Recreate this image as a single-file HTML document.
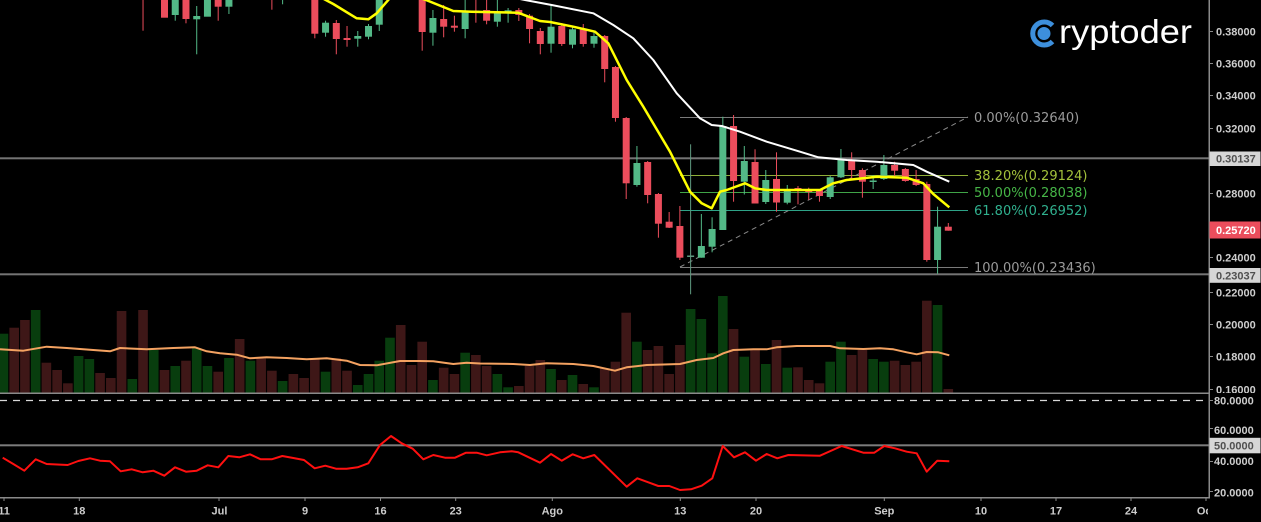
<!DOCTYPE html>
<html><head><meta charset="utf-8"><style>
html,body{margin:0;padding:0;background:#000;}
svg{display:block;}
</style></head><body>
<svg width="1261" height="522" viewBox="0 0 1261 522" xmlns="http://www.w3.org/2000/svg">
<defs>
<clipPath id="main"><rect x="0" y="0" width="1209" height="393"/></clipPath>
<clipPath id="rsi"><rect x="0" y="394" width="1209" height="103"/></clipPath>
<clipPath id="xax"><rect x="0" y="498" width="1208" height="24"/></clipPath>
<clipPath id="pax"><rect x="1210" y="0" width="51" height="393"/></clipPath>
</defs>
<rect width="1261" height="522" fill="#000"/>

<g clip-path="url(#main)">
<!-- volume green -->
<g fill="#083d0e">
<rect x="-1.35" y="333.7" width="9.6" height="58.8"/><rect x="30.86" y="310" width="9.6" height="82.5"/><rect x="73.81" y="356" width="9.6" height="36.5"/><rect x="84.55" y="359" width="9.6" height="33.5"/><rect x="127.49" y="379" width="9.6" height="13.5"/><rect x="148.97" y="350" width="9.6" height="42.5"/><rect x="170.44" y="366" width="9.6" height="26.5"/><rect x="191.92" y="348.3" width="9.6" height="44.2"/><rect x="202.65" y="366" width="9.6" height="26.5"/><rect x="224.13" y="358" width="9.6" height="34.5"/><rect x="245.6" y="360.7" width="9.6" height="31.8"/><rect x="277.81" y="381" width="9.6" height="11.5"/><rect x="320.76" y="371.7" width="9.6" height="20.8"/><rect x="352.97" y="385" width="9.6" height="7.5"/><rect x="363.71" y="374" width="9.6" height="18.5"/><rect x="374.45" y="360.7" width="9.6" height="31.8"/><rect x="385.18" y="337.7" width="9.6" height="54.8"/><rect x="428.13" y="380" width="9.6" height="12.5"/><rect x="460.34" y="352.7" width="9.6" height="39.8"/><rect x="492.55" y="374" width="9.6" height="18.5"/><rect x="503.29" y="387.3" width="9.6" height="5.2"/><rect x="546.24" y="369" width="9.6" height="23.5"/><rect x="567.71" y="375" width="9.6" height="17.5"/><rect x="589.19" y="387.3" width="9.6" height="5.2"/><rect x="632.13" y="341.7" width="9.6" height="50.8"/><rect x="685.82" y="309" width="9.6" height="83.5"/><rect x="696.56" y="319" width="9.6" height="73.5"/><rect x="707.29" y="353.3" width="9.6" height="39.2"/><rect x="718.03" y="296" width="9.6" height="96.5"/><rect x="739.5" y="356.7" width="9.6" height="35.8"/><rect x="760.98" y="364" width="9.6" height="28.5"/><rect x="782.45" y="367.7" width="9.6" height="24.8"/><rect x="825.4" y="361.7" width="9.6" height="30.8"/><rect x="836.14" y="341.7" width="9.6" height="50.8"/><rect x="868.35" y="359" width="9.6" height="33.5"/><rect x="879.08" y="361.7" width="9.6" height="30.8"/><rect x="932.77" y="305" width="9.6" height="87.5"/>
</g>
<!-- volume red -->
<g fill="#3e1717">
<rect x="9.39" y="327.7" width="9.6" height="64.8"/><rect x="20.12" y="320" width="9.6" height="72.5"/><rect x="41.6" y="362.7" width="9.6" height="29.8"/><rect x="52.34" y="370" width="9.6" height="22.5"/><rect x="63.07" y="383.3" width="9.6" height="9.2"/><rect x="95.28" y="373" width="9.6" height="19.5"/><rect x="106.02" y="378" width="9.6" height="14.5"/><rect x="116.76" y="311" width="9.6" height="81.5"/><rect x="138.23" y="310" width="9.6" height="82.5"/><rect x="159.71" y="370" width="9.6" height="22.5"/><rect x="181.18" y="360.7" width="9.6" height="31.8"/><rect x="213.39" y="371.7" width="9.6" height="20.8"/><rect x="234.86" y="339" width="9.6" height="53.5"/><rect x="256.34" y="358.3" width="9.6" height="34.2"/><rect x="267.08" y="370.7" width="9.6" height="21.8"/><rect x="288.55" y="374" width="9.6" height="18.5"/><rect x="299.29" y="378" width="9.6" height="14.5"/><rect x="310.02" y="358.3" width="9.6" height="34.2"/><rect x="331.5" y="358.3" width="9.6" height="34.2"/><rect x="342.23" y="370.7" width="9.6" height="21.8"/><rect x="395.92" y="325" width="9.6" height="67.5"/><rect x="406.66" y="365" width="9.6" height="27.5"/><rect x="417.39" y="341.7" width="9.6" height="50.8"/><rect x="438.87" y="367.7" width="9.6" height="24.8"/><rect x="449.6" y="374" width="9.6" height="18.5"/><rect x="471.08" y="355" width="9.6" height="37.5"/><rect x="481.82" y="366" width="9.6" height="26.5"/><rect x="514.03" y="386" width="9.6" height="6.5"/><rect x="524.76" y="366" width="9.6" height="26.5"/><rect x="535.5" y="360" width="9.6" height="32.5"/><rect x="556.97" y="380" width="9.6" height="12.5"/><rect x="578.45" y="384" width="9.6" height="8.5"/><rect x="599.92" y="368.3" width="9.6" height="24.2"/><rect x="610.66" y="361.7" width="9.6" height="30.8"/><rect x="621.4" y="312.7" width="9.6" height="79.8"/><rect x="642.87" y="350" width="9.6" height="42.5"/><rect x="653.61" y="346" width="9.6" height="46.5"/><rect x="664.34" y="374" width="9.6" height="18.5"/><rect x="675.08" y="345" width="9.6" height="47.5"/><rect x="728.77" y="329" width="9.6" height="63.5"/><rect x="750.24" y="350" width="9.6" height="42.5"/><rect x="771.71" y="340" width="9.6" height="52.5"/><rect x="793.19" y="367.3" width="9.6" height="25.2"/><rect x="803.93" y="380" width="9.6" height="12.5"/><rect x="814.66" y="383.3" width="9.6" height="9.2"/><rect x="846.87" y="355" width="9.6" height="37.5"/><rect x="857.61" y="350" width="9.6" height="42.5"/><rect x="889.82" y="360.7" width="9.6" height="31.8"/><rect x="900.56" y="365" width="9.6" height="27.5"/><rect x="911.3" y="361.7" width="9.6" height="30.8"/><rect x="922.03" y="300.7" width="9.6" height="91.8"/><rect x="943.51" y="389" width="9.6" height="3.5"/>
</g>
<!-- volume MA -->
<polyline fill="none" stroke="#f4a261" stroke-width="2" stroke-linejoin="round" points="0,349.3 23.3,350.7 46.7,346.7 66.7,348 93.3,350 110,351.3 120,348 146.7,349.3 173.3,348 195,347.3 206.7,351.3 220,353.3 236.7,354.7 250,358.3 266.7,357.3 286.7,358 306.7,359.3 326.7,358.3 346.7,360.7 360,365 376.7,365.3 400,361 420,361 433.3,361.3 453.3,364 466.7,362.7 480,363.5 513.3,364 530,365 546.7,363.3 573.3,364 593.3,366 615,370.7 626.7,367.3 646.7,365 680,364 696.7,360 713.3,358 723.3,353.3 733.3,350 753.3,349.3 766.7,349.3 776.7,347.3 796.7,346 830,346 840,348.3 863.3,349 880,348.3 893.3,349.3 906.7,352.3 916.7,354.3 926.7,352 938.3,352.3 949.3,355.3"/>

<!-- horizontal price lines -->
<rect x="0" y="157.3" width="1209" height="2" fill="#747474"/>
<rect x="0" y="273.3" width="1209" height="2" fill="#747474"/>

<!-- fib lines -->
<line x1="680" y1="117.5" x2="968" y2="117.5" stroke="#7a7a7a" stroke-width="1"/>
<line x1="680" y1="175.5" x2="968" y2="175.5" stroke="#8fae38" stroke-width="1"/>
<line x1="680" y1="192.5" x2="968" y2="192.5" stroke="#3fa447" stroke-width="1"/>
<line x1="680" y1="210.5" x2="968" y2="210.5" stroke="#2ea387" stroke-width="1"/>
<line x1="680" y1="267.5" x2="968" y2="267.5" stroke="#7a7a7a" stroke-width="1"/>
<line x1="680" y1="267" x2="968" y2="117" stroke="#8a8a8a" stroke-width="1" stroke-dasharray="5,4"/>

<!-- candles green -->
<g fill="#53b987">
<rect x="174.74" y="-5" width="1" height="25.7"/><rect x="171.74" y="-5" width="7" height="20"/>
<rect x="196.22" y="6" width="1" height="48.3"/><rect x="193.22" y="16" width="7" height="3.3"/>
<rect x="203.95" y="-5" width="7" height="21.7"/>
<rect x="228.43" y="-5" width="1" height="19"/><rect x="225.43" y="-5" width="7" height="11.7"/>
<rect x="282.11" y="-5" width="1" height="9.3"/>
<rect x="325.06" y="20.7" width="1" height="16"/><rect x="322.06" y="22.7" width="7" height="10"/>
<rect x="357.27" y="31" width="1" height="15.7"/><rect x="354.27" y="36" width="7" height="2.7"/>
<rect x="368.01" y="24" width="1" height="15.3"/><rect x="365.01" y="26" width="7" height="10.7"/>
<rect x="378.75" y="-5" width="1" height="36"/><rect x="375.75" y="-5" width="7" height="29.7"/>
<rect x="432.43" y="10" width="1" height="35.7"/><rect x="429.43" y="18" width="7" height="14.7"/>
<rect x="464.64" y="-5" width="1" height="43.3"/><rect x="461.64" y="12.3" width="7" height="16.7"/>
<rect x="496.85" y="-5" width="1" height="31.7"/><rect x="493.85" y="12.3" width="7" height="9.4"/>
<rect x="507.59" y="8" width="1" height="14.7"/><rect x="504.59" y="10.3" width="7" height="2.4"/>
<rect x="550.54" y="5" width="1" height="47.7"/><rect x="547.54" y="26.7" width="7" height="17"/>
<rect x="572.01" y="26.7" width="1" height="21.6"/><rect x="569.01" y="29.3" width="7" height="15.4"/>
<rect x="593.49" y="32.3" width="1" height="15.4"/><rect x="590.49" y="36" width="7" height="7.7"/>
<rect x="636.43" y="146" width="1" height="40.7"/><rect x="633.43" y="163" width="7" height="22"/>
<rect x="700.86" y="214" width="1" height="43.7"/><rect x="697.86" y="246" width="7" height="11.7"/>
<rect x="711.59" y="217.3" width="1" height="35"/><rect x="708.59" y="229" width="7" height="17.7"/>
<rect x="722.33" y="116.7" width="1" height="113.3"/><rect x="719.33" y="126" width="7" height="104"/>
<rect x="743.8" y="146" width="1" height="48.5"/><rect x="740.8" y="161" width="7" height="20.7"/>
<rect x="765.28" y="170" width="1" height="34"/><rect x="762.28" y="180" width="7" height="22"/>
<rect x="786.75" y="185" width="1" height="19.3"/><rect x="783.75" y="189" width="7" height="13.7"/>
<rect x="829.7" y="176" width="1" height="23"/><rect x="826.7" y="177.3" width="7" height="19.7"/>
<rect x="840.44" y="149" width="1" height="29"/><rect x="837.44" y="159.3" width="7" height="18"/>
<rect x="872.65" y="175" width="1" height="14"/><rect x="869.65" y="180.5" width="7" height="1.5"/>
<rect x="883.38" y="155" width="1" height="25"/><rect x="880.38" y="165" width="7" height="14"/>
<rect x="937.07" y="206.7" width="1" height="67"/><rect x="934.07" y="226.7" width="7" height="33.3"/>
</g>
<g fill="#5f9a80">
<rect x="690.12" y="144.3" width="1" height="150"/><rect x="687.12" y="255.5" width="7" height="1.5"/>
</g>
<!-- candles red -->
<g fill="#eb4d5c">
<rect x="142.53" y="-5" width="1" height="35.7"/>
<rect x="161" y="-5" width="7" height="22.7"/>
<rect x="185.48" y="-5" width="1" height="28.3"/><rect x="182.48" y="-5" width="7" height="24"/>
<rect x="217.69" y="-5" width="1" height="25.7"/><rect x="214.69" y="-5" width="7" height="11.7"/>
<rect x="271.38" y="-5" width="1" height="14.7"/>
<rect x="314.32" y="-5" width="1" height="43.3"/><rect x="311.32" y="-5" width="7" height="38.7"/>
<rect x="335.8" y="20" width="1" height="34.3"/><rect x="332.8" y="23" width="7" height="16"/>
<rect x="346.53" y="26" width="1" height="20.7"/><rect x="343.53" y="38" width="7" height="2"/>
<rect x="421.69" y="-5" width="1" height="55.7"/><rect x="418.69" y="-5" width="7" height="37"/>
<rect x="443.17" y="5" width="1" height="32.3"/><rect x="440.17" y="19" width="7" height="7.7"/>
<rect x="453.9" y="15.7" width="1" height="16"/><rect x="450.9" y="25.7" width="7" height="2"/>
<rect x="475.38" y="-5" width="1" height="27.7"/><rect x="472.38" y="10.7" width="7" height="2"/>
<rect x="486.12" y="-5" width="1" height="29.3"/><rect x="483.12" y="10" width="7" height="10.7"/>
<rect x="518.33" y="8" width="1" height="13"/><rect x="515.33" y="10" width="7" height="5"/>
<rect x="529.06" y="14" width="1" height="29.3"/><rect x="526.06" y="15.7" width="7" height="13.3"/>
<rect x="539.8" y="28" width="1" height="26.3"/><rect x="536.8" y="31" width="7" height="13"/>
<rect x="561.27" y="23" width="1" height="23"/><rect x="558.27" y="26" width="7" height="18"/>
<rect x="582.75" y="24" width="1" height="22.7"/><rect x="579.75" y="29.3" width="7" height="14.7"/>
<rect x="604.22" y="35" width="1" height="47.3"/><rect x="601.22" y="36" width="7" height="33"/>
<rect x="614.96" y="66" width="1" height="55.7"/><rect x="611.96" y="67" width="7" height="51"/>
<rect x="625.7" y="117" width="1" height="82"/><rect x="622.7" y="118" width="7" height="65.3"/>
<rect x="647.17" y="161" width="1" height="42.3"/><rect x="644.17" y="162" width="7" height="33"/>
<rect x="657.91" y="193" width="1" height="44.7"/><rect x="654.91" y="194" width="7" height="29.7"/>
<rect x="668.64" y="212" width="1" height="16"/><rect x="665.64" y="221.7" width="7" height="6"/>
<rect x="679.38" y="206" width="1" height="54"/><rect x="676.38" y="226" width="7" height="31.7"/>
<rect x="733.07" y="115" width="1" height="86.7"/><rect x="730.07" y="126" width="7" height="55"/>
<rect x="754.54" y="149.3" width="1" height="54.2"/><rect x="751.54" y="162" width="7" height="41.5"/>
<rect x="776.01" y="152.3" width="1" height="59.4"/><rect x="773.01" y="179" width="7" height="23.5"/>
<rect x="797.49" y="186" width="1" height="18.3"/><rect x="794.49" y="188" width="7" height="2"/>
<rect x="808.23" y="187.7" width="1" height="12.3"/><rect x="805.23" y="190" width="7" height="2"/>
<rect x="818.96" y="189" width="1" height="12.7"/><rect x="815.96" y="190" width="7" height="6"/>
<rect x="851.17" y="152.3" width="1" height="26.7"/><rect x="848.17" y="160" width="7" height="10"/>
<rect x="861.91" y="168.3" width="1" height="29.4"/><rect x="858.91" y="170" width="7" height="11.7"/>
<rect x="894.12" y="161.7" width="1" height="15"/><rect x="891.12" y="165" width="7" height="5.7"/>
<rect x="904.86" y="168" width="1" height="13.7"/><rect x="901.86" y="169" width="7" height="12"/>
<rect x="915.6" y="170" width="1" height="16"/><rect x="912.6" y="179" width="7" height="6"/>
<rect x="926.33" y="181.7" width="1" height="80"/><rect x="923.33" y="184" width="7" height="76"/>
<rect x="947.81" y="223" width="1" height="7.7"/><rect x="944.81" y="226.7" width="7" height="4"/>
</g>

<!-- moving averages -->
<polyline fill="none" stroke="#ffff00" stroke-width="2.5" stroke-linejoin="round" points="322,-2 333.3,4 356.7,18.3 368.3,19.3 376.7,13.3 390,-2"/>
<polyline fill="none" stroke="#ffff00" stroke-width="2.5" stroke-linejoin="round" points="420,-2 426,0 453.3,11 471.7,11.7 518,12.7 540,21 550,22 573.3,26.7 595,31.7 608.3,43.3 626.7,80 643.3,106.7 670,151.7 690,191.7 701.7,203.3 711.7,208.3 720,191.7 726.7,190 745,183.3 755,188.3 766.7,190 820,190 833.3,183.3 846.7,180 876.7,176.7 906.7,177.7 923.3,183.3 933.3,194 949.3,207.3"/>
<polyline fill="none" stroke="#ffffff" stroke-width="2" stroke-linejoin="round" points="500,-5 525,0 551.7,5 593.3,13.3 613.3,25 633.3,38.3 653.3,60 676.7,93.3 700,118.3 711.7,125 721.7,126 740,131.7 766.7,141.7 800,151.7 818.3,157.3 846.7,160 876.7,161.7 913.3,165 926.7,171.7 949.3,181.7"/>

<!-- fib labels -->
<g font-family="DejaVu Sans, Liberation Sans, sans-serif" font-size="13">
<text x="974" y="122" fill="#9a9a9a">0.00%(0.32640)</text>
<text x="974" y="180" fill="#a3c13b">38.20%(0.29124)</text>
<text x="974" y="197" fill="#46b547">50.00%(0.28038)</text>
<text x="974" y="215" fill="#30b08e">61.80%(0.26952)</text>
<text x="974" y="272" fill="#9a9a9a">100.00%(0.23436)</text>
</g>
</g>

<!-- RSI pane -->
<g clip-path="url(#rsi)">
<line x1="0" y1="400.5" x2="1209" y2="400.5" stroke="#d8d8d8" stroke-width="1.2" stroke-dasharray="7,6"/>
<rect x="0" y="444.3" width="1209" height="2" fill="#7c7c7c"/>
<polyline fill="none" stroke="#ff1010" stroke-width="2" stroke-linejoin="round" points="2.7,457.7 13.3,464 24.3,470.7 35.7,459.3 46.7,464 67.7,465 78.3,461 90,458.3 100,460.7 110,461.3 120.7,471.3 131.7,469.3 142.7,472.3 153.3,470.7 164.3,475.7 175,467.3 186,471.7 196.7,470.7 207.7,465.3 218.3,467.3 228.3,456 239.3,457.3 250,454.3 260.7,459.3 271.7,459.3 282.3,456 293.3,458 304,460 314.7,468.3 325.3,465.7 336,468.7 346.7,468.7 357.7,467.3 368.3,463.3 380,445 391,436 401.7,443.3 412.7,448.7 423.3,459.3 433.3,455 445,457.7 455,457.7 466,452.7 476.7,452.7 486.7,455.3 500,452.3 511.7,451.3 518.3,452.3 540,462.7 551,454 561.7,460.7 572.7,454.3 583.3,458.3 594.3,455 626.7,486.7 637.3,478.3 648.3,482.3 658.3,486 669.3,486 680,490 691,489.3 701.7,485.7 712.3,478.3 722.7,446 734,457.3 745,452.3 756,460.7 766.7,454 777.3,458.3 788.3,455 820,455.7 841.7,446 863.3,452.7 874.3,452.7 884.3,446 895,448.3 906.7,451.7 916.7,453.3 926.7,471.7 937.3,460.7 949.3,461.3"/>
</g>

<!-- pane borders / axes -->
<rect x="0" y="392.5" width="1209" height="1.5" fill="#8a8a8a"/>
<rect x="0" y="497" width="1209" height="1.5" fill="#8a8a8a"/>
<rect x="1208.5" y="0" width="1.5" height="498.5" fill="#8a8a8a"/>

<!-- price axis ticks -->
<g stroke="#8a8a8a" stroke-width="1">
<line x1="1209" y1="31.5" x2="1213" y2="31.5"/><line x1="1209" y1="63.5" x2="1213" y2="63.5"/><line x1="1209" y1="95.5" x2="1213" y2="95.5"/><line x1="1209" y1="128.5" x2="1213" y2="128.5"/><line x1="1209" y1="193.5" x2="1213" y2="193.5"/><line x1="1209" y1="257.5" x2="1213" y2="257.5"/><line x1="1209" y1="292.5" x2="1213" y2="292.5"/><line x1="1209" y1="324.5" x2="1213" y2="324.5"/><line x1="1209" y1="356.5" x2="1213" y2="356.5"/><line x1="1209" y1="389.5" x2="1213" y2="389.5"/>
<line x1="1209" y1="400.5" x2="1213" y2="400.5"/><line x1="1209" y1="428.5" x2="1213" y2="428.5"/><line x1="1209" y1="461.5" x2="1213" y2="461.5"/><line x1="1209" y1="491.5" x2="1213" y2="491.5"/>
<line x1="4" y1="498" x2="4" y2="501"/><line x1="79.3" y1="498" x2="79.3" y2="501"/><line x1="219" y1="498" x2="219" y2="501"/><line x1="305" y1="498" x2="305" y2="501"/><line x1="380.5" y1="498" x2="380.5" y2="501"/><line x1="455.7" y1="498" x2="455.7" y2="501"/><line x1="552.3" y1="498" x2="552.3" y2="501"/><line x1="680.3" y1="498" x2="680.3" y2="501"/><line x1="756" y1="498" x2="756" y2="501"/><line x1="884.3" y1="498" x2="884.3" y2="501"/><line x1="981" y1="498" x2="981" y2="501"/><line x1="1056" y1="498" x2="1056" y2="501"/><line x1="1131" y1="498" x2="1131" y2="501"/><line x1="1206" y1="498" x2="1206" y2="501"/>
</g>

<!-- price axis labels -->
<g font-family="Liberation Sans, Arial, sans-serif" font-size="11" font-weight="bold" fill="#cdcdcd">
<text x="1216" y="35.5">0.38000</text>
<text x="1216" y="67.3">0.36000</text>
<text x="1216" y="99.7">0.34000</text>
<text x="1216" y="132.3">0.32000</text>
<text x="1216" y="197.3">0.28000</text>
<text x="1216" y="261.7">0.24000</text>
<text x="1216" y="296.3">0.22000</text>
<text x="1216" y="328.3">0.20000</text>
<text x="1216" y="360.7">0.18000</text>
<g clip-path="url(#pax)"><text x="1216" y="393.3">0.16000</text></g>
<text x="1214" y="404.7">80.0000</text>
<text x="1214" y="434">60.0000</text>
<text x="1214" y="465">40.0000</text>
<text x="1214" y="496.3">20.0000</text>
</g>
<!-- value boxes -->
<rect x="1209.5" y="151.5" width="51" height="14.5" fill="#d6d6d6"/>
<rect x="1209.5" y="221.5" width="51" height="17" fill="#eb4d5c"/>
<rect x="1209.5" y="268" width="51" height="14.8" fill="#d6d6d6"/>
<rect x="1209.5" y="437.8" width="51" height="15.5" fill="#d6d6d6"/>
<g font-family="Liberation Sans, Arial, sans-serif" font-size="11" font-weight="bold">
<text x="1216" y="162.7" fill="#505050">0.30137</text>
<text x="1216" y="234" fill="#ffffff">0.25720</text>
<text x="1216" y="279.4" fill="#505050">0.23037</text>
<text x="1214" y="449.5" fill="#505050">50.0000</text>
</g>

<!-- x axis labels -->
<g clip-path="url(#xax)" font-family="Liberation Sans, Arial, sans-serif" font-size="11" font-weight="bold" fill="#cdcdcd" text-anchor="middle">
<text x="4" y="514.5">11</text>
<text x="79.3" y="514.5">18</text>
<text x="219.5" y="514.5">Jul</text>
<text x="305" y="514.5">9</text>
<text x="380.5" y="514.5">16</text>
<text x="455.7" y="514.5">23</text>
<text x="552.3" y="514.5">Ago</text>
<text x="680.3" y="514.5">13</text>
<text x="756" y="514.5">20</text>
<text x="884.3" y="514.5">Sep</text>
<text x="981" y="514.5">10</text>
<text x="1056" y="514.5">17</text>
<text x="1131" y="514.5">24</text>
<text x="1206" y="514.5">Oct</text>
</g>

<!-- logo -->
<g>
<path d="M1052.5,25.5 A11.5,11.5 0 1 0 1052.5,41.5" fill="none" stroke="#3d8fdc" stroke-width="5"/>
<circle cx="1044" cy="33.5" r="6.5" fill="#3d8fdc"/>
<text x="1059" y="43" font-family="Liberation Sans, Arial, sans-serif" font-size="33" fill="#ffffff" textLength="133" lengthAdjust="spacingAndGlyphs">ryptoder</text>
</g>
</svg>
</body></html>
